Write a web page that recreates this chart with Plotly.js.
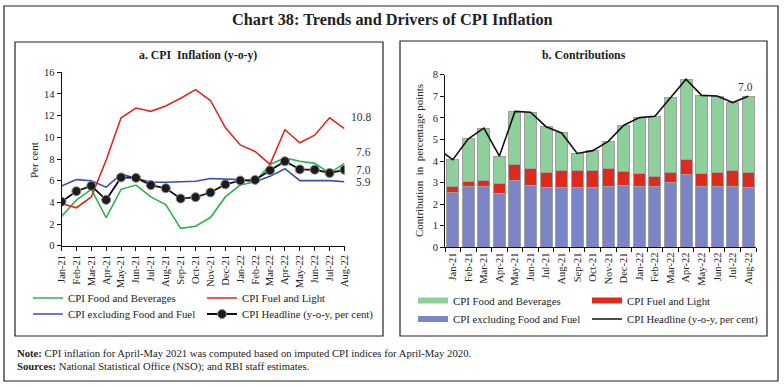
<!DOCTYPE html>
<html>
<head>
<meta charset="utf-8">
<script src="https://cdn.plot.ly/plotly-3.0.1.min.js"></script>
<style>
html,body{margin:0;padding:0;background:#fff;}
#chart{width:784px;height:387px;}
</style>
</head>
<body>
<div id="chart"></div>
<script>
// ---------- DATA ----------
const months = ['Jan-21','Feb-21','Mar-21','Apr-21','May-21','Jun-21','Jul-21','Aug-21','Sep-21','Oct-21','Nov-21','Dec-21',
                'Jan-22','Feb-22','Mar-22','Apr-22','May-22','Jun-22','Jul-22','Aug-22'];
// Panel a: y-o-y inflation (per cent)
const foodInfl = [2.7,4.2,5.2,2.6,5.2,5.6,4.5,3.8,1.6,1.8,2.6,4.5,5.6,5.9,7.5,8.1,7.8,7.6,6.7,7.6];
const fuelInfl = [3.9,3.5,4.5,7.9,11.8,12.7,12.4,12.9,13.6,14.4,13.4,10.9,9.3,8.7,7.5,10.7,9.5,10.2,11.8,10.8];
const coreInfl = [5.5,6.1,6.0,5.4,6.6,6.2,5.85,5.85,5.9,5.95,6.2,6.15,6.1,5.9,6.4,7.1,6.0,6.0,6.0,5.9];
const headline = [4.06,5.03,5.52,4.23,6.30,6.26,5.59,5.30,4.35,4.48,4.91,5.66,6.01,6.07,6.95,7.79,7.04,7.01,6.71,7.00];
// Panel b: contributions (percentage points)
const coreContrib = [2.56,2.84,2.84,2.50,3.10,2.87,2.75,2.75,2.75,2.75,2.83,2.87,2.83,2.80,3.00,3.38,2.83,2.83,2.83,2.78];
const fuelContrib = [0.25,0.20,0.25,0.48,0.76,0.77,0.74,0.79,0.83,0.82,0.80,0.66,0.57,0.50,0.49,0.67,0.57,0.65,0.74,0.70];
const foodContrib = [1.25,1.99,2.43,1.25,2.44,2.62,2.10,1.76,0.77,0.91,1.28,2.13,2.61,2.77,3.46,3.74,3.64,3.53,3.14,3.52];
const prevMonth = 'Dec-20';
const prevHeadline = 4.59;
const endLabelsA = [
  {name:'fuel', text:'10.8', value:10.8},
  {name:'food', text:'7.6', value:7.6},
  {name:'headline', text:'7.0', value:7.0},
  {name:'core', text:'5.9', value:5.9}
];
const endLabelB = {text:'7.0', value:7.0};

// ---------- LAYOUT HELPERS ----------
const W = 784, H = 387;
const px = v => v / W;
const py = v => 1 - v / H;
const SERIF = 'Liberation Serif, Times New Roman, serif';
const TXT = '#222';

const colFood = '#2bb34f', colFuel = '#e0281f', colCore = '#3a4db3';
const barCore = '#7b84c4', barFuel = '#dd2b1e', barFood = '#8dd09b';

const monthsB = [prevMonth].concat(months);
const headlineB = [prevHeadline].concat(headline);

const traces = [
  // Panel a
  {x: months, y: foodInfl, type:'scatter', mode:'lines', name:'CPI Food and Beverages',
   line:{color:colFood, width:1.6}, xaxis:'x', yaxis:'y', legend:'legend'},
  {x: months, y: fuelInfl, type:'scatter', mode:'lines', name:'CPI Fuel and Light',
   line:{color:colFuel, width:1.6}, xaxis:'x', yaxis:'y', legend:'legend'},
  {x: months, y: coreInfl, type:'scatter', mode:'lines', name:'CPI excluding Food and Fuel',
   line:{color:colCore, width:1.6}, xaxis:'x', yaxis:'y', legend:'legend2'},
  {x: months, y: headline, type:'scatter', mode:'lines+markers', name:'CPI Headline (y-o-y, per cent)',
   line:{color:'#111', width:1.8}, marker:{size:9, color:'#1c1c1c', line:{color:'#8a8a8a', width:1}},
   xaxis:'x', yaxis:'y', legend:'legend2'},
  // Panel b stacked bars
  {x: months, y: coreContrib, type:'bar', name:'CPI excluding Food and Fuel', showlegend:false,
   marker:{color:barCore, line:{color:'#a0a0a0', width:1}}, xaxis:'x2', yaxis:'y2'},
  {x: months, y: fuelContrib, type:'bar', name:'CPI Fuel and Light', showlegend:false,
   marker:{color:barFuel, line:{color:'#a0a0a0', width:1}}, xaxis:'x2', yaxis:'y2'},
  {x: months, y: foodContrib, type:'bar', name:'CPI Food and Beverages', showlegend:false,
   marker:{color:barFood, line:{color:'#a0a0a0', width:1}}, xaxis:'x2', yaxis:'y2'},
  {x: monthsB, y: headlineB, type:'scatter', mode:'lines', name:'CPI Headline (y-o-y, per cent)', showlegend:false,
   line:{color:'#111', width:1.6}, xaxis:'x2', yaxis:'y2'},
  // Panel b legend entries (wide swatches)
  {x:[null], y:[null], type:'scatter', mode:'lines', name:'CPI Food and Beverages',
   line:{color:barFood, width:6}, xaxis:'x2', yaxis:'y2', legend:'legend3'},
  {x:[null], y:[null], type:'scatter', mode:'lines', name:'CPI Fuel and Light',
   line:{color:barFuel, width:6}, xaxis:'x2', yaxis:'y2', legend:'legend3'},
  {x:[null], y:[null], type:'scatter', mode:'lines', name:'CPI excluding Food and Fuel',
   line:{color:barCore, width:6}, xaxis:'x2', yaxis:'y2', legend:'legend4'},
  {x:[null], y:[null], type:'scatter', mode:'lines', name:'CPI Headline (y-o-y, per cent)',
   line:{color:'#111', width:1.6}, xaxis:'x2', yaxis:'y2', legend:'legend4'}
];

const tickFont = {family:SERIF, size:10.5, color:TXT};
const legFont = {family:SERIF, size:10.8, color:TXT};
function mkLegend(xp, yp) {
  return {orientation:'h', x:px(xp), y:py(yp), xanchor:'left', yanchor:'middle', traceorder:'normal',
          entrywidth:129, entrywidthmode:'pixels', itemwidth:30, font:legFont,
          bgcolor:'rgba(0,0,0,0)', borderwidth:0, tracegroupgap:0};
}

const annotations = [
  {text:'Chart 38: Trends and Drivers of CPI Inflation', xref:'paper', yref:'paper', x:px(392), y:py(19),
   showarrow:false, font:{family:SERIF, size:16.3, color:'#222', weight:'bold'}, xanchor:'center', yanchor:'middle'},
  {text:'<b>a. CPI  Inflation (y-o-y)</b>', xref:'paper', yref:'paper', x:px(198), y:py(55),
   showarrow:false, font:{family:SERIF, size:11.8, color:'#222'}, xanchor:'center', yanchor:'middle'},
  {text:'<b>b. Contributions</b>', xref:'paper', yref:'paper', x:px(584), y:py(55),
   showarrow:false, font:{family:SERIF, size:11.8, color:'#222'}, xanchor:'center', yanchor:'middle'},
  {text:'Per cent', xref:'paper', yref:'paper', x:px(34), y:py(160), textangle:-90,
   showarrow:false, font:{family:SERIF, size:11, color:TXT}, xanchor:'center', yanchor:'middle'},
  {text:'Contribution  in  percentage points', xref:'paper', yref:'paper', x:px(419), y:py(161), textangle:-90,
   showarrow:false, font:{family:SERIF, size:11, color:TXT}, xanchor:'center', yanchor:'middle'},
  {text:'<b>Note:</b> CPI inflation for April-May 2021 was computed based on imputed CPI indices for April-May 2020.',
   xref:'paper', yref:'paper', x:px(15), y:py(353), showarrow:false, font:{family:SERIF, size:10.7, color:TXT},
   xanchor:'left', yanchor:'middle'},
  {text:'<b>Sources:</b> National Statistical Office (NSO); and RBI staff estimates.',
   xref:'paper', yref:'paper', x:px(15), y:py(366), showarrow:false, font:{family:SERIF, size:10.7, color:TXT},
   xanchor:'left', yanchor:'middle'}
];
const shiftsA = {fuel:[4,12], food:[9,11], headline:[9,0], core:[9,0]};
const lastMonth = months[months.length - 1];
endLabelsA.forEach(l => {
  annotations.push({text:l.text, x:lastMonth, y:l.value, xref:'x', yref:'y', showarrow:false,
    xanchor:'left', yanchor:'middle', xshift:shiftsA[l.name][0], yshift:shiftsA[l.name][1],
    font:{family:SERIF, size:11.5, color:'#333'}});
});
annotations.push({text:endLabelB.text, x:lastMonth, y:endLabelB.value, xref:'x2', yref:'y2', showarrow:false,
  xanchor:'center', yanchor:'bottom', xshift:-3, yshift:1, font:{family:SERIF, size:11.5, color:'#333'}});

const boxLine = {color:'#222', width:1.2};
const shapes = [
  {type:'rect', xref:'paper', yref:'paper', x0:px(4), x1:px(778), y0:py(6), y1:py(381), line:boxLine, layer:'below'},
  {type:'rect', xref:'paper', yref:'paper', x0:px(15), x1:px(383), y0:py(42), y1:py(336), line:boxLine, layer:'below'},
  {type:'rect', xref:'paper', yref:'paper', x0:px(400), x1:px(767), y0:py(41), y1:py(336), line:boxLine, layer:'below'}
];

const axCommon = {showgrid:false, zeroline:false, showline:true, linecolor:'#111', linewidth:1,
  ticks:'outside', ticklen:4, tickcolor:'#111', tickwidth:1, tickfont:tickFont, fixedrange:true};

const layout = {
  width:W, height:H, margin:{l:0, r:0, t:0, b:0}, paper_bgcolor:'#fff', plot_bgcolor:'rgba(0,0,0,0)',
  showlegend:true, barmode:'stack', bargap:0.23,
  xaxis: Object.assign({}, axCommon, {domain:[px(61.5), px(344.5)], type:'category', range:[0, 19],
    tickangle:-90, anchor:'y'}),
  yaxis: Object.assign({}, axCommon, {domain:[py(245.7), py(72.3)], range:[0, 16], dtick:2, tick0:0, anchor:'x'}),
  xaxis2: Object.assign({}, axCommon, {domain:[px(445), px(756)], type:'category', categoryorder:'array',
    categoryarray:monthsB, range:[0.5, 20.5], tickson:'boundaries', tickangle:-90, anchor:'y2'}),
  yaxis2: Object.assign({}, axCommon, {domain:[py(247.3), py(74.7)], range:[0, 8], dtick:1, tick0:0, anchor:'x2'}),
  legend: mkLegend(28, 298),
  legend2: mkLegend(28, 314),
  legend3: mkLegend(413, 300.5),
  legend4: mkLegend(413, 319),
  annotations: annotations,
  shapes: shapes
};

Plotly.newPlot('chart', traces, layout, {displayModeBar:false, staticPlot:true});
</script>
</body>
</html>
